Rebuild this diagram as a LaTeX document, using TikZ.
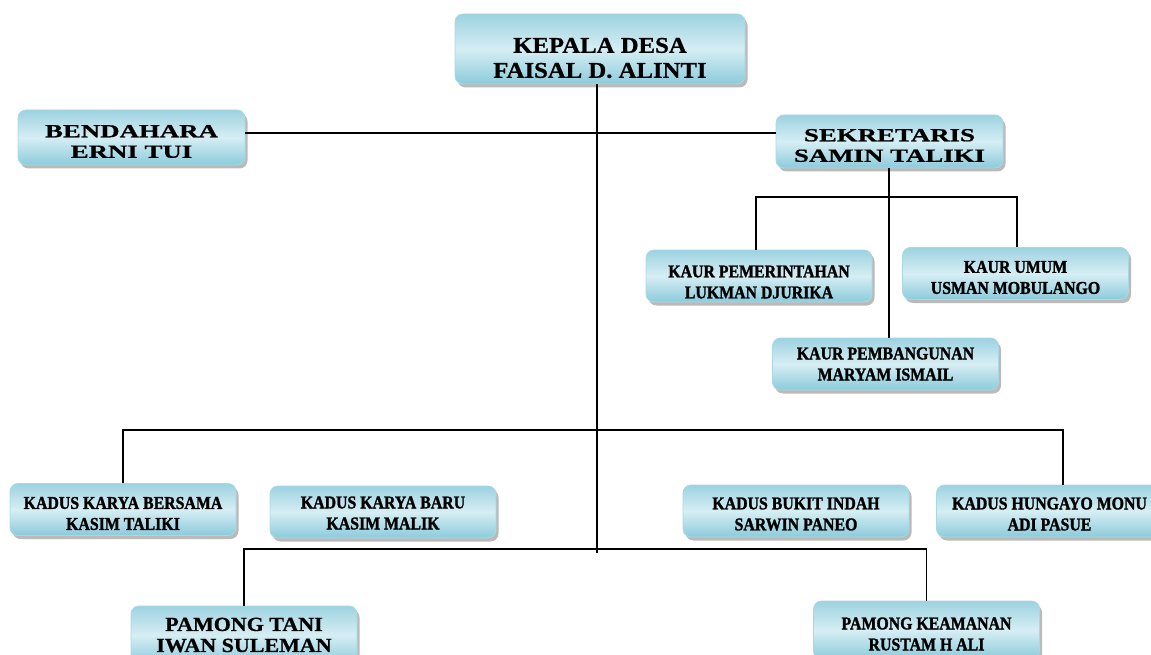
\documentclass[tikz,border=0pt]{standalone}
\usepackage{fontspec}
\usetikzlibrary{shadows}
\setmainfont{Liberation Serif}
\newfontfamily\headfont[FakeStretch=1.10,FakeBold=0.8]{Liberation Serif}
\newfontfamily\widefont[FakeStretch=1.45,FakeBold=0.8]{Liberation Serif}
\newfontfamily\tightfont[FakeStretch=0.88,FakeBold=1.5]{Liberation Serif}
\begin{document}
\begin{tikzpicture}[x=1pt,y=-1pt,
  orgbox/.style={draw=boxEdge,line width=0.8pt,rounded corners=8pt,
    top color=boxTop,bottom color=boxBottom,middle color=boxMid,
    drop shadow={shadow xshift=2.5pt,shadow yshift=-3.5pt,fill=shadowColor,opacity=0.6},
    inner sep=0pt,minimum width=226pt,minimum height=52pt},
  headtext/.style={align=center,font=\headfont\bfseries\fontsize{22.5}{25}\selectfont},
  widetext/.style={align=center,font=\widefont\bfseries\fontsize{18.5}{20.5}\selectfont},
  plaintext/.style={align=center,font=\tightfont\bfseries\fontsize{18}{21}\selectfont},
  link/.style={draw=black,line width=1.6pt}]
\definecolor{boxTop}{RGB}{157,210,224}
\definecolor{boxMid}{RGB}{214,238,244}
\definecolor{boxBottom}{RGB}{140,203,219}
\definecolor{boxEdge}{RGB}{169,216,228}
\definecolor{shadowColor}{gray}{0.55}
\clip (0,0) rectangle (1151,655);

% top level
\node[orgbox,minimum width=290pt,minimum height=70pt,
  label={[headtext,yshift=-9pt]center:KEPALA DESA\\FAISAL D. ALINTI}] (kepala) at (600,49) {};
\node[orgbox,minimum width=227pt,minimum height=55pt,
  label={[widetext,yshift=-4pt]center:BENDAHARA\\ERNI TUI}] (bendahara) at (131.5,137.5) {};
\node[orgbox,minimum width=227pt,minimum height=53pt,
  label={[widetext,yshift=-4pt]center:SEKRETARIS\\SAMIN TALIKI}] (sekretaris) at (889.5,141.5) {};

% kaur
\node[orgbox,label={[plaintext,yshift=-6pt]center:KAUR PEMERINTAHAN\\LUKMAN DJURIKA}] (kaurpem) at (759,276) {};
\node[orgbox,label={[plaintext,yshift=-4pt]center:KAUR UMUM\\USMAN MOBULANGO}] (kaurumum) at (1015.5,273.5) {};
\node[orgbox,label={[plaintext]center:KAUR PEMBANGUNAN\\MARYAM ISMAIL}] (kaurbang) at (885.5,364) {};

% kadus
\node[orgbox,label={[plaintext,yshift=-4pt]center:KADUS KARYA BERSAMA\\KASIM TALIKI}] (kadusbersama) at (123,509.5) {};
\node[orgbox,label={[plaintext,yshift=-1pt]center:KADUS KARYA BARU\\KASIM MALIK}] (kadusbaru) at (383,512) {};
\node[orgbox,label={[plaintext,yshift=-3pt]center:KADUS BUKIT INDAH\\SARWIN PANEO}] (kadusbukit) at (796,511) {};
\node[orgbox,label={[plaintext,yshift=-3pt]center:KADUS HUNGAYO MONU\\ADI PASUE}] (kadushungayo) at (1049.5,511) {};

% pamong
\node[orgbox,minimum height=58pt,
  label={[headtext,font=\headfont\bfseries\fontsize{20}{21}\selectfont,yshift=0pt]center:PAMONG TANI\\IWAN SULEMAN}] (pamongtani) at (244,635) {};
\node[orgbox,minimum height=58pt,
  label={[plaintext,yshift=-4pt]center:PAMONG KEAMANAN\\RUSTAM H ALI}] (pamongaman) at (926.5,630) {};

% connectors
\coordinate (trunk) at (597,553);
\coordinate (sekbar) at (0,133);
\coordinate (kaurbar) at (889,197);
\coordinate (kadusbar) at (597,430);
\coordinate (pamongbar) at (597,549);
\draw[link] (kepala.south -| trunk) -- (trunk);
\draw[link] (bendahara.east |- sekbar) -- (sekretaris.west |- sekbar);
\draw[link] (sekretaris.south -| kaurbar) -- (kaurbang.north -| kaurbar);
\draw[link] ([xshift=-3pt]kaurpem.north) |- (kaurbar) -| ([xshift=1.5pt]kaurumum.north);
\draw[link] (kadusbersama.north) |- (kadusbar) -| ([xshift=13.5pt]kadushungayo.north);
\draw[link] (pamongtani.north) |- (pamongbar) -| (pamongaman.north);
\end{tikzpicture}
\end{document}
